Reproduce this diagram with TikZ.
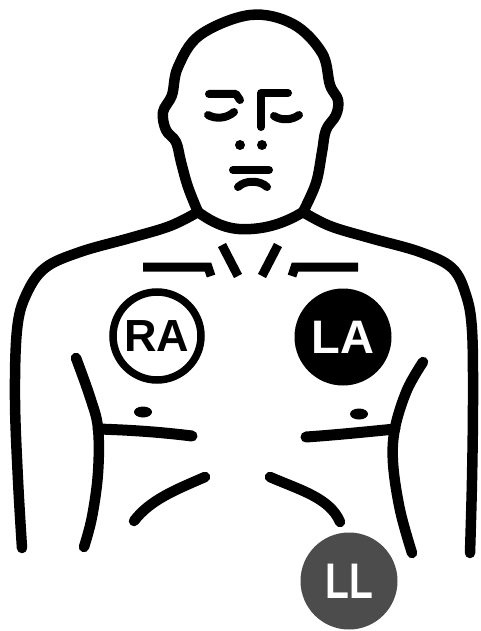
\documentclass[tikz,border=0pt]{standalone}
\usepackage{fontspec}
\setsansfont{Liberation Sans}
\begin{document}
\begin{tikzpicture}[x=1pt,y=-1pt,
  outline/.style={line width=10.5pt, line cap=round, line join=round},
  feature/.style={line width=8pt, line cap=round, line join=round},
  collar/.style={line width=9pt, line cap=butt, line join=miter},
  elecfont/.style={font=\sffamily\bfseries\fontsize{45}{45}\selectfont, inner sep=0pt},
  ringpad/.style={circle, draw, line width=7.5pt, minimum size=88pt, fill=white, text=black, elecfont},
  solidpad/.style={circle, fill=black, minimum size=97pt, text=white, elecfont},
  greypad/.style={circle, fill=black!70, minimum size=97pt, text=white, elecfont}]

% page frame
\useasboundingbox (0,0) rectangle (480,631);
\fill[white] (0,0) rectangle (480,631);

% head
\draw[outline] plot[smooth, tension=0.6] coordinates {
  (198,212) (188,187) (181,162) (176,142) (166,130) (163,112) (172,95)
  (178,67) (200,35) (250,15) (293,24) (322,53) (330,85) (338,100)
  (336,115) (326,130) (322,152) (316,183) (303,212)};

% neck base
\draw[outline] (198,212) .. controls (220,228) and (235,230) .. (251,229)
  .. controls (268,228) and (285,223) .. (303,212);

% shoulders and outer arms
\draw[outline] plot[smooth, tension=0.6] coordinates {
  (198,212) (170,226) (130,238) (80,252) (45,268) (26,295) (17,330)
  (15,400) (18,480) (22,548)};
\draw[outline] plot[smooth, tension=0.6] coordinates {
  (303,212) (330,226) (370,238) (420,252) (452,268) (466,295) (472,330)
  (473,400) (472,480) (470,553)};

% face
\draw[feature] (209,94) -- (236,94) -- (240,100);
\draw[feature] (208,115) .. controls (215,119) and (226,119) .. (234,112);
\draw[feature] (288,93) -- (261,93) -- (261,127);
\draw[feature] (274,116) .. controls (282,121) and (292,120) .. (299,115);
\fill (240,145) circle (5pt);
\fill (262,145) circle (5pt);
\draw[feature] (233,170) -- (269,170);
\draw[feature] (238,187) .. controls (245,180) and (260,180) .. (267,187);

% collarbone marks
\draw[collar] (143,267) -- (208,267) -- (211,276);
\draw[collar] (358,267) -- (295,267) -- (292,276);
\draw[collar] (222,245) -- (238,276);
\draw[collar] (278,245) -- (262,276);

% inner arm lines
\draw[outline] plot[smooth, tension=0.6] coordinates {
  (76,358) (90,397) (98,428) (98,473) (92,517) (84,547)};
\draw[outline] plot[smooth, tension=0.6] coordinates {
  (423,362) (407,390) (395,428) (393,463) (400,510) (412,553)};

% pectoral lines
\draw[outline, line width=11pt] (98,429) .. controls (130,430) and (160,432) .. (192,436);
\draw[outline, line width=11pt] (395,429) .. controls (365,432) and (335,435) .. (306,437);

% nipples
\fill (143,412) ellipse (9pt and 5.5pt);
\fill (359,414) ellipse (9pt and 5.5pt);

% lower ribs
\draw[outline] (134,521) .. controls (150,500) and (175,490) .. (205,477);
\draw[outline] (270,477) .. controls (300,490) and (330,498) .. (340,522);

% electrodes
\node[ringpad] (ra) at (157,336) {RA};
\node[solidpad, font=\sffamily\bfseries\fontsize{47}{47}\selectfont] (la) at (343,337) {LA};
\node[greypad] (ll) at (349,581) {\fontsize{50}{50}\selectfont\scalebox{0.78}[1]{LL}};
\end{tikzpicture}
\end{document}
